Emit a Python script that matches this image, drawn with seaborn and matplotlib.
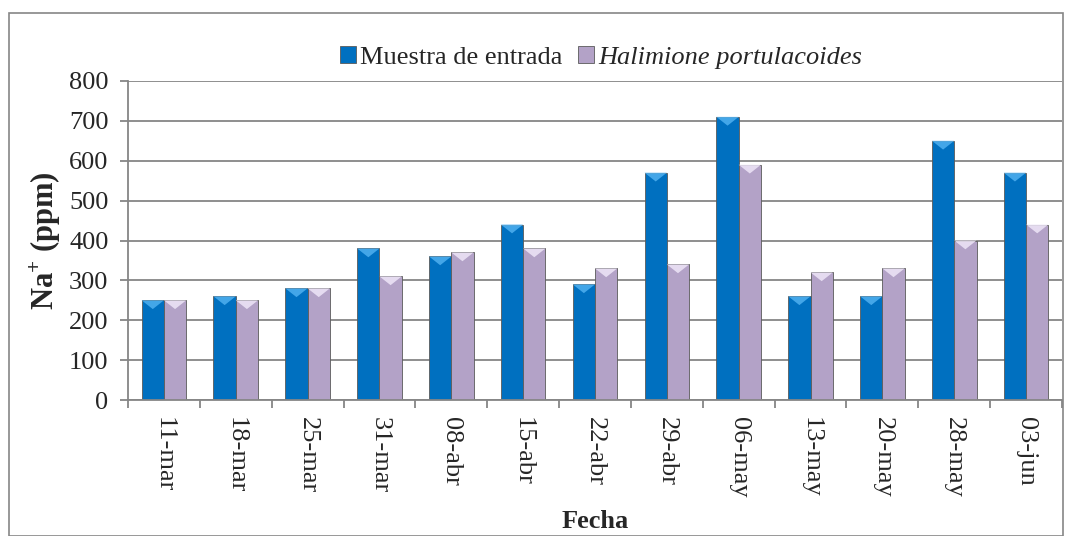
import numpy as np
import pandas as pd
import matplotlib
matplotlib.use("Agg")
import matplotlib.pyplot as plt
import matplotlib.patches as mpatches
import seaborn as sns

fechas = ['11-mar', '18-mar', '25-mar', '31-mar', '08-abr', '15-abr', '22-abr',
          '29-abr', '06-may', '13-may', '20-may', '28-may', '03-jun']
muestra_entrada = [250, 260, 280, 380, 360, 440, 290, 570, 710, 260, 260, 650, 570]
halimione = [250, 250, 280, 310, 370, 380, 330, 340, 590, 320, 330, 400, 440]
series = ['Muestra de entrada', 'Halimione portulacoides']
colores = ['#0070C0', '#B3A2C7']
colores_brillo = ['#4FB0F0', '#EEE6F8']

df = pd.DataFrame({
    'Fecha': fechas * 2,
    'Na': muestra_entrada + halimione,
    'Serie': [series[0]] * len(fechas) + [series[1]] * len(fechas),
})

sns.set_style('white')
plt.rcParams['font.family'] = ['Liberation Serif', 'DejaVu Serif']
plt.rcParams['mathtext.fontset'] = 'custom'
plt.rcParams['mathtext.rm'] = 'Liberation Serif:bold'
plt.rcParams['mathtext.bf'] = 'Liberation Serif:bold'

fig = plt.figure(figsize=(10.73, 5.36), dpi=100)
ax = fig.add_axes([128 / 1073, 0.2537, 934 / 1073, 0.5952])

sns.barplot(data=df, x='Fecha', y='Na', hue='Serie', order=fechas,
            hue_order=series, palette=colores, saturation=1, width=0.62,
            gap=0.0, edgecolor='#5a5a5a', linewidth=0.6, legend=False, ax=ax)

# bevel highlight on top of every bar (taken from the bar geometry)
ax.set_ylim(0, 800)
for i, bar in enumerate(ax.patches):
    x0, w, h = bar.get_x(), bar.get_width(), bar.get_height()
    d = 22
    c = colores_brillo[0] if i < len(fechas) else colores_brillo[1]
    tri = mpatches.Polygon([(x0, h), (x0 + w, h), (x0 + w / 2, h - d)],
                           closed=True, facecolor=c, edgecolor='none',
                           alpha=0.85, zorder=bar.get_zorder() + 0.1)
    ax.add_patch(tri)

# grid and axes styling
ax.set_yticks(range(0, 801, 100))
ax.set_xlim(-0.5, len(fechas) - 0.5)
ax.yaxis.grid(True, color='#868686', linewidth=1.3)
ax.set_axisbelow(True)
for side in ['top', 'right']:
    ax.spines[side].set_visible(False)
for side in ['left', 'bottom']:
    ax.spines[side].set_color('#868686')
    ax.spines[side].set_linewidth(1.3)

ax.set_xticks(range(len(fechas)))
ax.set_xticklabels(fechas, rotation=-90, fontsize=19)
ax.set_xticks(np.arange(-0.5, len(fechas)), minor=True)
ax.tick_params(axis='x', which='major', length=0, pad=12)
ax.tick_params(axis='x', which='minor', length=6, width=1.3, color='#868686',
               direction='out', bottom=True)
ax.tick_params(axis='y', length=6, width=1.3, color='#868686', direction='out',
               left=True, labelsize=19, pad=8)

ax.set_xlabel('')
fig.text((128 + 467) / 1073, 1 - 522 / 536, 'Fecha', fontsize=19,
         fontweight='bold', ha='center', va='center')
ax.set_ylabel('Na$^{+}$ (ppm)', fontsize=22, fontweight='bold')
ax.yaxis.set_label_coords(-0.07, 0.5)

# legend
handles = [mpatches.Patch(facecolor=c, edgecolor='#5a5a5a', linewidth=0.6)
           for c in colores]
leg = fig.legend(handles, series, loc='center', bbox_to_anchor=(0.56, 0.893),
                 ncol=2, frameon=False, fontsize=19, handlelength=0.6,
                 handleheight=0.6, handletextpad=0.15, columnspacing=0.6)
leg.get_texts()[1].set_fontstyle('italic')

# outer chart border
fig.patches.append(mpatches.Rectangle((9 / 1073, 0), 1054 / 1073, 1 - 13 / 536,
                                      transform=fig.transFigure, fill=False,
                                      edgecolor='#868686', linewidth=1.2))

fig.savefig('out.png', dpi=100)
